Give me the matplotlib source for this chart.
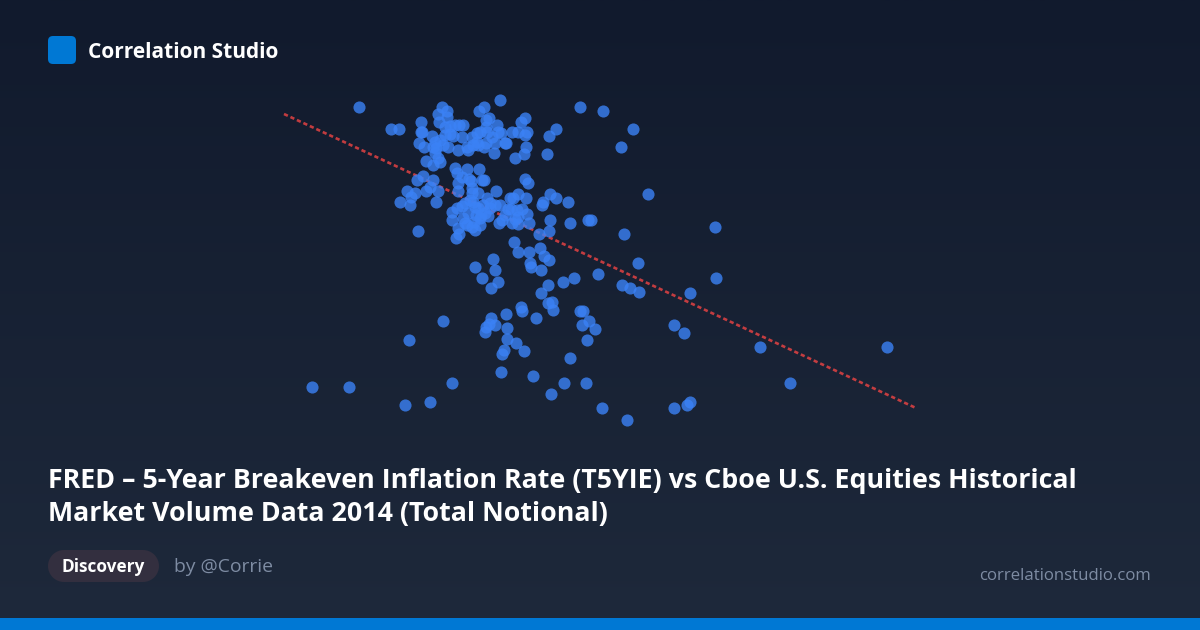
import matplotlib
matplotlib.use("Agg")
import matplotlib.pyplot as plt
import matplotlib.patches as patches
import numpy as np

# values (no axes in the original, so picture units)
scatter_x = [391, 399, 421, 421, 442, 447, 438, 439, 500, 484, 479, 489, 486, 486, 497, 525, 521, 556, 549, 547,
             432, 419, 424, 433, 440, 443, 450, 455, 459, 463, 445, 445, 453, 435, 448, 458,
             462, 468, 467, 472, 477, 480, 487, 478, 484, 473, 495, 492, 498, 501, 506, 512, 518, 525, 527,
             526, 524, 515, 494, 438, 435, 426, 433, 440, 455, 457, 467, 479, 462, 469, 471, 482, 484, 458, 458,
             472, 496, 525, 528, 423, 417, 433, 407, 430, 438, 426, 415, 411, 400, 410, 436, 472, 478, 487, 465,
             457, 452, 452, 470, 473, 490, 495, 500, 468, 478, 485, 488, 465, 467, 475, 480, 459, 456, 499, 502,
             508, 511, 510, 513, 518, 526, 522, 518, 515, 512, 518, 529, 550, 556, 543, 542, 568, 550, 570, 588,
             591, 549, 539, 514, 418, 518, 529, 540, 544, 549, 493, 624, 648, 715, 716, 690, 638, 598, 622, 630,
             639, 574, 563, 548, 541, 531, 530, 541, 552, 548, 553, 475, 482, 495, 498, 491, 521, 522, 506, 536,
             491, 489, 495, 486, 485, 507, 443, 409, 507, 516, 524, 504, 502, 570, 587, 595, 589, 582, 580, 583,
             674, 684, 760, 887, 790, 690, 687, 674, 627, 602, 551, 564, 586, 533, 501, 452, 430, 405, 349, 312,
             359, 580, 603, 633, 621, 476, 463, 483, 462, 474, 480, 490, 472, 458,
             422, 447, 477, 486, 505, 450, 436, 475, 481, 505, 517, 527]
scatter_y = [129, 129, 122, 132, 107, 111, 114, 122, 100, 107, 111, 118, 120, 127, 125, 118, 122, 129, 136, 154,
             136, 143, 147, 147, 140, 145, 126, 125, 125, 125, 127, 135, 136, 142, 147, 150,
             137, 150, 147, 137, 133, 132, 132, 145, 147, 145, 143, 137, 132, 133, 143, 132, 132, 135, 132,
             147, 154, 158, 153, 158, 153, 161, 165, 162, 168, 173, 169, 169, 177, 179, 181, 180, 180, 183, 191,
             188, 191, 179, 183, 176, 180, 180, 191, 187, 191, 191, 193, 197, 202, 205, 202, 193, 193, 198, 203,
             208, 212, 220, 200, 202, 203, 205, 205, 213, 208, 213, 216, 223, 225, 230, 225, 234, 238, 223, 220,
             209, 209, 198, 198, 194, 198, 209, 217, 219, 223, 224, 223, 194, 198, 202, 205, 202, 220, 223, 220,
             220, 231, 234, 242, 231, 252, 252, 248, 256, 260, 259, 234, 194, 227, 278, 293, 263, 274, 285, 288,
             292, 278, 282, 285, 270, 267, 263, 293, 302, 303, 310, 267, 278, 270, 282, 288, 307, 311, 314, 318,
             318, 324, 325, 327, 332, 328, 321, 340, 339, 343, 351, 350, 354, 358, 340, 329, 321, 325, 311, 311,
             325, 333, 347, 347, 383, 402, 405, 408, 420, 408, 394, 383, 383, 376, 372, 383, 402, 405, 387, 387,
             107, 107, 111, 129, 147, 215, 218, 205, 206, 222, 218, 208, 227, 228,
             132, 117, 142, 143, 143, 134, 148, 207, 215, 215, 210, 214]

# fit line ends
line_x = [284, 917]
line_y = [114, 408.5]

logo_text = "Correlation Studio"
title_lines = ["FRED – 5-Year Breakeven Inflation Rate (T5YIE) vs Cboe U.S. Equities Historical",
               "Market Volume Data 2014 (Total Notional)"]
tag_text = "Discovery"
author_text = "by @Corrie"
site_text = "correlationstudio.com"

plt.rcParams['font.family'] = ['Open Sans', 'DejaVu Sans']

fig = plt.figure(figsize=(12, 6.3), dpi=100)
ax = fig.add_axes([0, 0, 1, 1])
ax.set_xlim(0, 1200)
ax.set_ylim(630, 0)
ax.axis('off')

# background gradient
grad = np.linspace(0, 1, 256).reshape(-1, 1)
top = np.array([0x11, 0x1a, 0x2d]) / 255
bottom = np.array([0x1e, 0x29, 0x3b]) / 255
ax.imshow(top + grad[:, :, None] * (bottom - top), extent=(0, 1200, 630, 0), aspect='auto', zorder=0)

# bottom bar
ax.add_patch(patches.Rectangle((0, 618), 1200, 12, facecolor='#0078d4', edgecolor='none', zorder=1))

# logo
ax.add_patch(patches.FancyBboxPatch((52, 40), 20, 20, boxstyle="round,pad=4,rounding_size=5",
                                    facecolor='#0078d4', edgecolor='none', zorder=2))
ax.text(88, 52, logo_text, fontsize=15, fontweight='bold', color='white', va='center', ha='left', zorder=3)

# chart, line goes under the dots
ax.plot(line_x, line_y, color='#ef4444', alpha=0.8, linewidth=1.9, linestyle=(0, (1.6, 1.1)), zorder=2.5)
ax.scatter(scatter_x, scatter_y, s=76, color='#3b82f6', alpha=0.8, linewidths=0, zorder=3)

# title
ax.text(48, 481, title_lines[0], fontsize=19.3, fontweight='bold', color='white', va='center', ha='left', zorder=3)
ax.text(48, 514, title_lines[1], fontsize=19.3, fontweight='bold', color='white', va='center', ha='left', zorder=3)

# footer
ax.add_patch(patches.Rectangle((64, 550), 79, 32, facecolor='#332f3f', edgecolor='none', zorder=2))
ax.add_patch(patches.Circle((64, 566), 16, facecolor='#332f3f', edgecolor='none', zorder=2))
ax.add_patch(patches.Circle((143, 566), 16, facecolor='#332f3f', edgecolor='none', zorder=2))
ax.text(103.5, 567, tag_text, fontsize=12.4, fontweight='bold', color='white', va='center', ha='center', zorder=3)
ax.text(174, 567, author_text, fontsize=13.9, color='#7e8ca3', va='center', ha='left', zorder=3)
ax.text(1151, 576, site_text, fontsize=12.05, color='#7e8ca3', va='center', ha='right', zorder=3)

fig.savefig('out.png', dpi=100)
